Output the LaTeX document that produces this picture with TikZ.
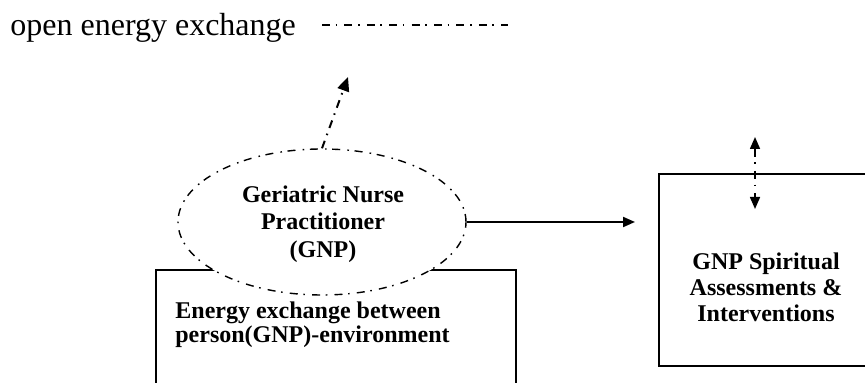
\documentclass[tikz,border=0pt]{standalone}
\usepackage{fontspec}
\setmainfont{Liberation Serif}
\usetikzlibrary{shapes.geometric, positioning, arrows.meta}

\begin{document}
\begin{tikzpicture}[x=0.5pt, y=-0.5pt, >={Triangle[length=6pt, width=5pt]},
    box/.style={draw, line width=1pt, rectangle, inner sep=0pt},
    boldtext/.style={font=\fontsize{12}{13.7}\selectfont\bfseries},
    dashdot/.style={dash pattern=on 4pt off 2.8pt on 0.8pt off 3.6pt}]
    \useasboundingbox (0,0) rectangle (865,383);
    \clip (0,0) rectangle (865,383);

    % Nodes
    \node[anchor=base west, font=\fontsize{16}{19}\selectfont, inner sep=0pt] (legend) at (10,36) {open energy exchange};
    \coordinate (legA) at (322,25);
    \coordinate (legB) at (508,25);

    \node[box, minimum width=180pt, minimum height=80pt, anchor=north west] (lbox) at (155,269) {};
    \node[boldtext, font=\fontsize{12}{12}\selectfont\bfseries, align=left, anchor=north west, inner sep=0pt] (ltext) at (175,301)
        {Energy exchange between\\person(GNP)-environment};

    \node[box, minimum width=121pt, minimum height=96pt, anchor=north west] (rbox) at (658,173) {};
    \node[boldtext, font=\fontsize{12}{13}\selectfont\bfseries, align=center] (rtext) at (766,287)
        {GNP Spiritual\\Assessments \&\\Interventions};

    \node[ellipse, draw, dashdot, line width=0.7pt, fill=white,
          minimum width=144pt, minimum height=73pt, inner sep=0pt] (gnp) at (322,222) {};
    \node[boldtext, align=center] (gnptext) at (323,224)
        {Geriatric Nurse\\Practitioner\\(GNP)};

    \coordinate (openend) at (348,77);
    \coordinate (exchtop) at (755,137);
    \coordinate (exchbot) at (755,209);

    % Connectors
    \draw[dashdot, line width=0.8pt] (legA) -- (legB);
    \draw[-{Triangle[length=7pt, width=6pt]}, line width=1pt, dash pattern=on 4pt off 3pt on 0.8pt off 3pt] (gnp.north) -- (openend);
    \draw[->, line width=1pt] (gnp.east) -- (gnp.east -| rbox.west) [shorten >=11.5pt];
    \draw[<->, line width=0.8pt, dashdot] (exchtop) -- (exchbot);
\end{tikzpicture}
\end{document}
